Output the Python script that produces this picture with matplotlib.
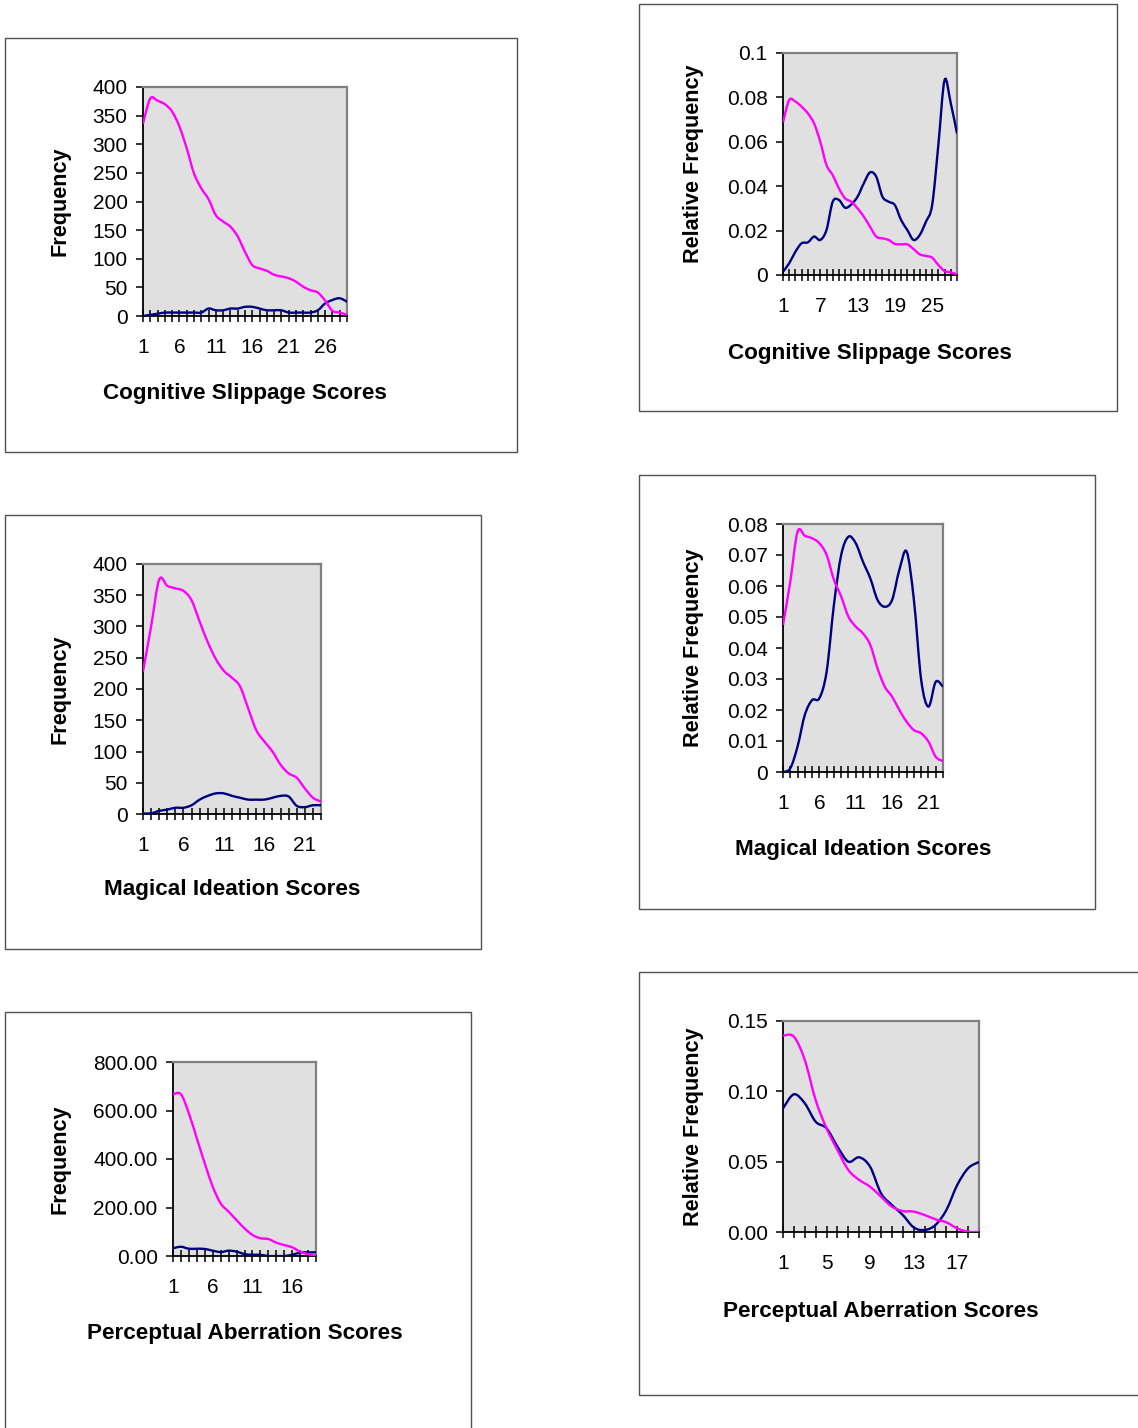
import numpy as np
import matplotlib
matplotlib.use("Agg")
import matplotlib.pyplot as plt
from matplotlib.path import Path
from matplotlib.patches import PathPatch, Rectangle

plt.rcParams['font.family'] = ['Liberation Sans', 'DejaVu Sans']

W, H = 1138, 1428

# ---- data (two groups per scale) ----
# Cognitive Slippage, raw frequencies (scores 1..29)
cs_freq_pink = [336, 380, 376, 370, 357, 331, 293, 249, 223, 204, 176, 165, 156, 139,
                112, 89, 83, 79, 72, 69, 66, 60, 51, 45, 41, 27, 9, 6, 2]
cs_freq_blue = [0, 2, 4, 6, 6, 6, 6, 6, 6, 13, 10, 10, 13, 13, 16, 16, 13, 10, 10, 10,
                6, 6, 6, 6, 10, 22, 28, 31, 25]
# Cognitive Slippage, relative frequencies
cs_rel_pink = [0.0688, 0.0788, 0.0781, 0.0758, 0.0728, 0.0683, 0.060, 0.0495, 0.045,
               0.039, 0.0345, 0.033, 0.030, 0.0263, 0.0218, 0.0173, 0.0165, 0.0158,
               0.014, 0.0138, 0.0138, 0.0117, 0.0093, 0.0086, 0.0078, 0.0045, 0.0018,
               0.0012, 0.0003]
cs_rel_blue = [0.0015, 0.0053, 0.0105, 0.0143, 0.0147, 0.0173, 0.0158, 0.0203, 0.033,
               0.0338, 0.0303, 0.0318, 0.0353, 0.0413, 0.0462, 0.0443, 0.0353, 0.033,
               0.0315, 0.0248, 0.0203, 0.0158, 0.018, 0.024, 0.0315, 0.0586, 0.0878,
               0.0773, 0.0638]

# Magical Ideation (scores 1..23)
mi_freq_pink = [228, 300, 375, 365, 361, 357, 342, 308, 275, 248, 229, 218, 204, 169,
                134, 116, 100, 79, 65, 58, 41, 26, 20]
mi_freq_blue = [1, 1, 5, 7, 10, 10, 14, 23, 29, 33, 33, 29, 26, 23, 23, 23, 26, 29, 28,
                13, 11, 14, 14]
mi_rel_pink = [0.0474, 0.0614, 0.0775, 0.0762, 0.0754, 0.0738, 0.070, 0.062, 0.0566,
               0.0501, 0.0469, 0.0447, 0.041, 0.0334, 0.0275, 0.0243, 0.020, 0.0162,
               0.0135, 0.0125, 0.0098, 0.0049, 0.0035]
mi_rel_blue = [0.0, 0.0012, 0.0082, 0.0184, 0.0232, 0.0238, 0.0324, 0.0539, 0.070,
               0.0759, 0.0738, 0.0678, 0.0625, 0.0555, 0.0533, 0.0555, 0.0652, 0.0711,
               0.0555, 0.0297, 0.0211, 0.0291, 0.0275]

# Perceptual Aberration (scores 1..19)
pa_freq_pink = [667, 667, 588, 485, 382, 286, 217, 183, 148, 114, 87, 73, 70, 55, 45,
                36, 18, 8, 0]
pa_freq_blue = [32, 38, 30, 30, 29, 22, 16, 22, 18, 8, 5, 5, 0, 0, 0, 5, 14, 15, 15]
pa_rel_pink = [0.1396, 0.1389, 0.1223, 0.0938, 0.0737, 0.0583, 0.0441, 0.037, 0.0322,
               0.0251, 0.018, 0.0149, 0.0145, 0.0121, 0.009, 0.0069, 0.0026, 0.0002, 0.0]
pa_rel_blue = [0.0879, 0.0979, 0.0915, 0.0784, 0.0737, 0.0607, 0.050, 0.0531, 0.0464,
               0.0275, 0.0192, 0.0121, 0.0033, 0.0014, 0.005, 0.0156, 0.0334, 0.0453,
               0.0498]

PINK = '#FF00FF'
NAVY = '#000080'


def smooth_path(x, y):
    # excel-style smoothed line: cubic bezier through every point
    x = np.asarray(x, float)
    y = np.asarray(y, float)
    n = len(x)
    verts = [(x[0], y[0])]
    codes = [Path.MOVETO]
    for i in range(n - 1):
        a = max(i - 1, 0)
        b = min(i + 2, n - 1)
        c1 = (x[i] + (x[i + 1] - x[a]) / 6.0, y[i] + (y[i + 1] - y[a]) / 6.0)
        c2 = (x[i + 1] - (x[b] - x[i]) / 6.0, y[i + 1] - (y[b] - y[i]) / 6.0)
        verts += [c1, c2, (x[i + 1], y[i + 1])]
        codes += [Path.CURVE4] * 3
    return Path(verts, codes)


def frame(fig, x0, y0, x1, y1):
    fig.patches.append(Rectangle((x0 / W, 1 - y1 / H), (x1 - x0) / W, (y1 - y0) / H,
                                 transform=fig.transFigure, fill=False,
                                 edgecolor='#505050', linewidth=1.0))


def panel(fig, box, area, pink, blue, yticks, ylabels, step, ylab, xlab, ylab_x, xlab_y):
    x0, y0, x1, y1 = area
    ax = fig.add_axes([x0 / W, 1 - y1 / H, (x1 - x0) / W, (y1 - y0) / H])
    ax.set_facecolor('#E0E0E0')
    n = len(pink)
    cats = np.arange(1, n + 1)
    for vals, col in ((blue, NAVY), (pink, PINK)):
        ax.add_patch(PathPatch(smooth_path(cats, vals), fill=False, edgecolor=col,
                               linewidth=1.7, zorder=3))
    ax.set_xlim(1, n)
    ax.set_ylim(yticks[0], yticks[-1])
    ax.set_xticks(cats)
    ax.set_xticklabels([str(c) if (c - 1) % step == 0 else '' for c in cats])
    ax.set_yticks(yticks)
    ax.set_yticklabels(ylabels)
    ax.tick_params(axis='x', direction='inout', length=8, width=1.1, pad=12,
                   labelsize=15, color='black')
    ax.tick_params(axis='y', direction='out', length=5, width=1.1, pad=6,
                   labelsize=15, color='black')
    for s in ('left', 'bottom'):
        ax.spines[s].set_color('black')
        ax.spines[s].set_linewidth(1.3)
    for s in ('top', 'right'):
        ax.spines[s].set_color('#808080')
        ax.spines[s].set_linewidth(1.6)
    fig.text(ylab_x / W, 1 - (y0 + y1) / 2 / H, ylab, rotation=90, ha='center',
             va='center', fontsize=15.6, fontweight='bold')
    fig.text((x0 + x1) / 2 / W, 1 - xlab_y / H, xlab, ha='center', va='center',
             fontsize=16.2, fontweight='bold')
    frame(fig, *box)
    return ax


fig = plt.figure(figsize=(W / 100, H / 100), dpi=100)

freq_ticks = list(range(0, 401, 50))
freq_labels = [str(v) for v in freq_ticks]

panel(fig, (5, 38, 517, 452), (143, 87, 347, 316), cs_freq_pink, cs_freq_blue,
      freq_ticks, freq_labels, 5, 'Frequency', 'Cognitive Slippage Scores', 60, 393)

panel(fig, (639, 4, 1117, 411), (783, 53, 957, 275), cs_rel_pink, cs_rel_blue,
      [0, 0.02, 0.04, 0.06, 0.08, 0.1], ['0', '0.02', '0.04', '0.06', '0.08', '0.1'],
      6, 'Relative Frequency', 'Cognitive Slippage Scores', 693, 353)

panel(fig, (5, 515, 481, 949), (143, 564, 321, 814), mi_freq_pink, mi_freq_blue,
      freq_ticks, freq_labels, 5, 'Frequency', 'Magical Ideation Scores', 60, 890)

mi_ticks = [0, 0.01, 0.02, 0.03, 0.04, 0.05, 0.06, 0.07, 0.08]
panel(fig, (639, 475, 1095, 909), (783, 524, 943, 772), mi_rel_pink, mi_rel_blue,
      mi_ticks, ['0'] + ['%.2f' % v for v in mi_ticks[1:]], 5,
      'Relative Frequency', 'Magical Ideation Scores', 693, 850)

pa_ticks = [0, 200, 400, 600, 800]
panel(fig, (5, 1012, 471, 1445), (173, 1062, 316, 1256), pa_freq_pink, pa_freq_blue,
      pa_ticks, ['%.2f' % v for v in pa_ticks], 5, 'Frequency',
      'Perceptual Aberration Scores', 60, 1334)

pa_rel_ticks = [0, 0.05, 0.10, 0.15]
panel(fig, (639, 972, 1150, 1395), (783, 1021, 979, 1232), pa_rel_pink, pa_rel_blue,
      pa_rel_ticks, ['%.2f' % v for v in pa_rel_ticks], 4, 'Relative Frequency',
      'Perceptual Aberration Scores', 693, 1311)

fig.savefig('out.png', dpi=100)
